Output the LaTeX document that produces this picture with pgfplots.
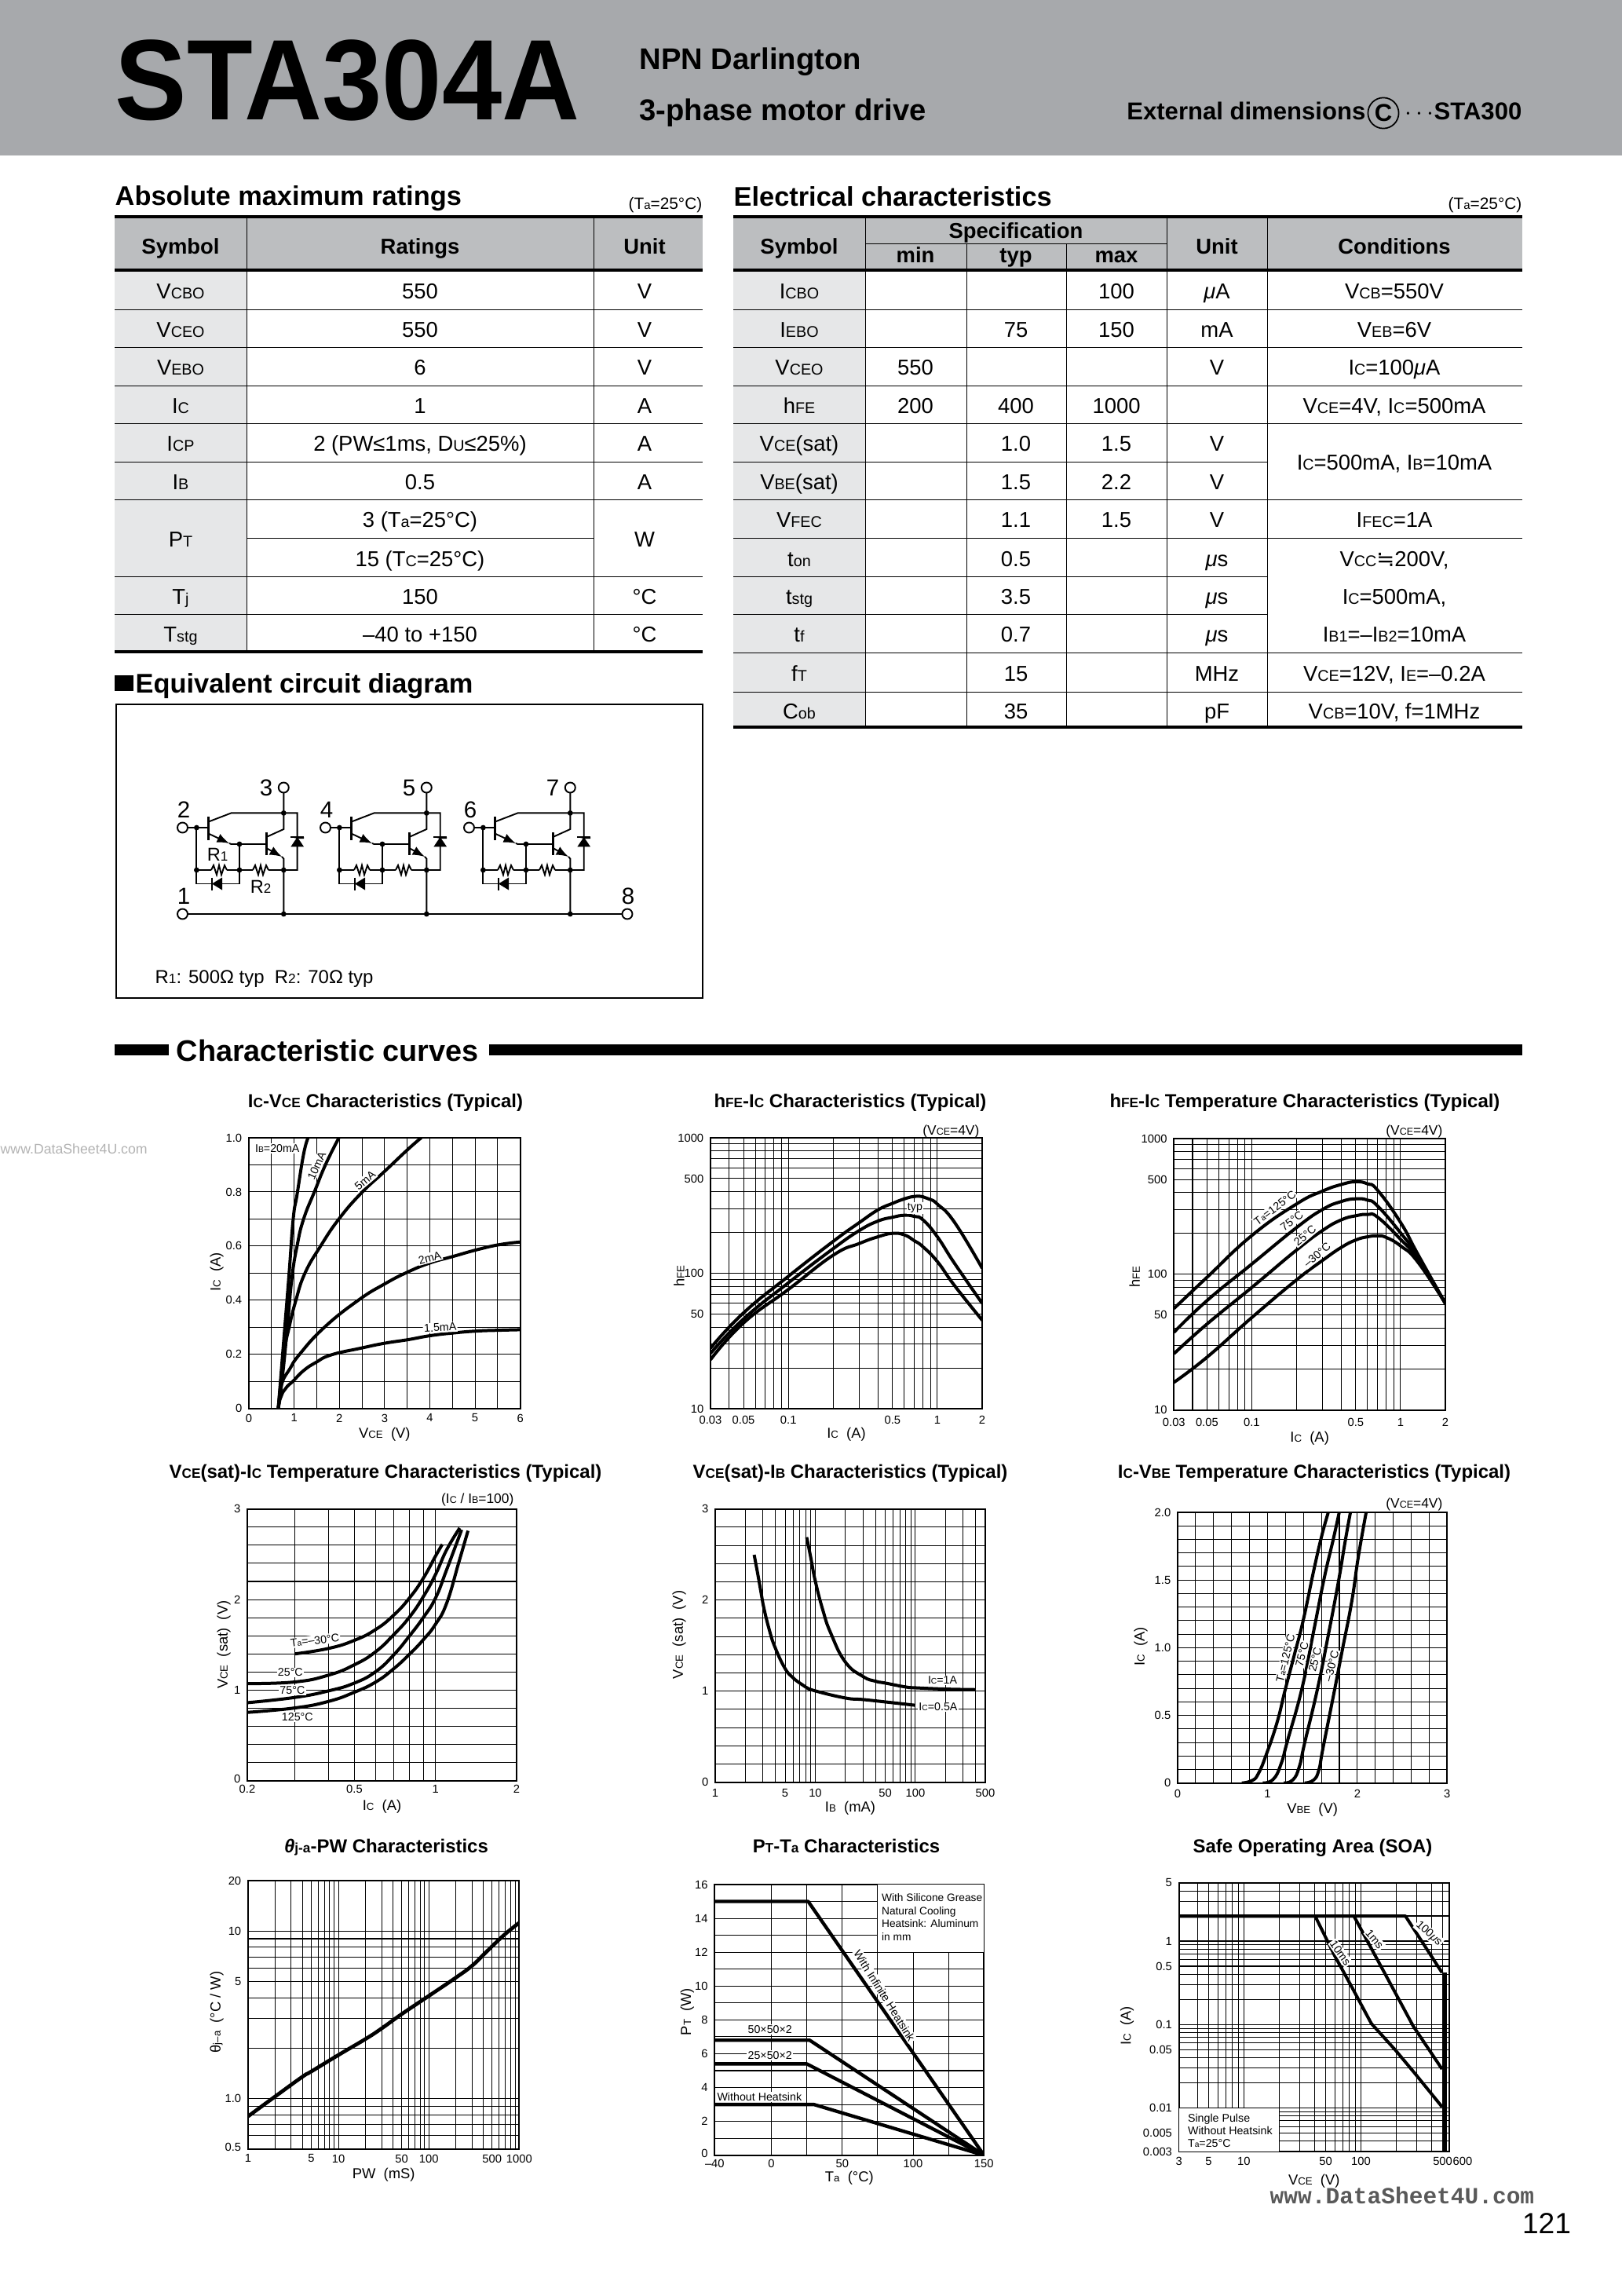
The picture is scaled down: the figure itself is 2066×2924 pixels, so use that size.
\documentclass[border=0pt]{standalone}
\usepackage{fontspec}
\usepackage{pgfplots}
\pgfplotsset{compat=1.18}
\setmainfont{Liberation Sans}
\newfontfamily\dv{DejaVu Sans}
\newfontfamily\wm{Liberation Mono}
\newcommand{\lo}[1]{\scalebox{.72}{#1}}
\newcommand{\fz}[1]{\fontsize{#1}{#1}\selectfont}
\definecolor{hdr}{HTML}{A7A9AC}
\definecolor{thead}{HTML}{BCBEC0}
\definecolor{tleft}{HTML}{E6E7E8}

\pgfplotsset{
  sheet/.style={
    scale only axis, anchor=south west,
    axis line style={line width=.55pt},
    tick style={draw=none}, tickwidth=0pt, subtickwidth=0pt,
    xmajorgrids, ymajorgrids, xminorgrids, yminorgrids,
    grid style={line width=.3pt,black},
    minor grid style={line width=.3pt,black},
    tick label style={font=\fz{4.25}},
    yticklabel style={xshift=1pt},
    label style={font=\fz{5.3}},
    cycle list={{black}},
  },
  % x label drop, y label offset (pixels), y label position along the axis
  labs/.style n args={3}{
    xlabel style={at={(axis description cs:.5,0)},anchor=center,yshift=-#1*.288pt},
    ylabel style={at={(axis description cs:0,#3)},anchor=center,yshift=#2*.288pt},
  },
  curve/.style={black,line width=1.15pt,no marks,smooth,tension=.8,line join=round},
  poly/.style={black,line width=1.15pt,no marks,line join=round},
  decx/.style={xmin=0.03,xmax=2,xtick={0.03,0.05,0.1,0.5,1,2},
    xticklabels={0.03,0.05,0.1,0.5,1,2},
    minor xtick={.04,.06,.07,.08,.09,.2,.3,.4,.6,.7,.8,.9}},
  decy/.style={ymin=10,ymax=1000,ytick={10,50,100,500,1000},
    yticklabels={10,50,100,500,1000},
    minor ytick={20,30,40,60,70,80,90,200,300,400,600,700,800,900}},
}
\tikzset{
  lbl/.style={font=\fz{4.1},fill=white,inner sep=.4pt},
  tx/.style={font=\fz{7.9},inner sep=0pt,anchor=mid,yshift=-.8pt},
  bt/.style={font=\fz{7.9}\bfseries,inner sep=0pt,anchor=mid,yshift=-.8pt},
  ttl/.style={font=\fz{6.9}\bfseries,inner sep=0pt,anchor=mid,yshift=-.6pt},
  note/.style={font=\fz{5},inner sep=0pt,anchor=mid east,yshift=-.5pt},
  thin/.style={line width=.28pt},
  fat/.style={line width=1.4pt},
  wire/.style={line width=.55pt},
}

\begin{document}
\begin{tikzpicture}
\begin{scope}[x=.288pt,y=-.288pt]
\path (0,0) rectangle (2066,2924);
% header band
\fill[hdr] (0,0) rectangle (2066,198);
\node[font=\fz{42}\bfseries,inner sep=0pt,anchor=mid west] at (146,143) {\scalebox{.94}[1]{STA304A}};
\node[font=\fz{11}\bfseries,inner sep=0pt,anchor=mid west] at (814,79) {NPN Darlington};
\node[font=\fz{11}\bfseries,inner sep=0pt,anchor=mid west] at (814,144) {3-phase motor drive};
\node[font=\fz{8.95}\bfseries,inner sep=0pt,anchor=mid east] at (1740,143) {External dimensions};
\node[font=\fz{8.95}\bfseries,draw,circle,line width=.5pt,inner sep=.8pt] at (1762,144) {C};
\node[font=\fz{8.95}\bfseries,inner sep=0pt,anchor=mid east] at (1939,143) {$\cdots$STA300};

% absolute maximum ratings
\node[font=\fz{9.9}\bfseries,inner sep=0pt,anchor=mid west] at (146,252) {Absolute maximum ratings};
\node[font=\fz{6},inner sep=0pt,anchor=mid east] at (895,257) {(T\lo{a}=25°C)};
\fill[thead] (146,276) rectangle (895,344);
\fill[tleft] (146,344) rectangle (314,830);
\draw[fat] (146,276) -- (895,276) (146,344) -- (895,344) (146,830) -- (895,830);
\draw[thin] (314,276) -- (314,830) (756,276) -- (756,830);
\foreach \y in {394,442,491,539,588,636,734,782} \draw[thin] (146,\y) -- (895,\y);
\draw[thin] (314,685) -- (756,685);
\node[bt] at (230,312) {Symbol};
\node[bt] at (535,312) {Ratings};
\node[bt] at (821,312) {Unit};
\foreach \y/\a/\b/\c in {369/{V\lo{CBO}}/{550}/V, 418/{V\lo{CEO}}/{550}/V, 466/{V\lo{EBO}}/{6}/V,
   515/{I\lo{C}}/{1}/A, 563/{I\lo{CP}}/{2 (PW≤1ms, D\lo{U}≤25\%)}/A, 612/{I\lo{B}}/{0.5}/A,
   758/{T\lo{j}}/{150}/{°C}, 806/{T\lo{stg}}/{–40 to +150}/{°C}}
  {\node[tx] at (230,\y) {\a}; \node[tx] at (535,\y) {\b}; \node[tx] at (821,\y) {\c};}
\node[tx] at (230,685) {P\lo{T}};
\node[tx] at (535,660) {3 (T\lo{a}=25°C)};
\node[tx] at (535,710) {15 (T\lo{C}=25°C)};
\node[tx] at (821,685) {W};

% electrical characteristics
\node[font=\fz{9.9}\bfseries,inner sep=0pt,anchor=mid west] at (934,253) {Electrical characteristics};
\node[font=\fz{6},inner sep=0pt,anchor=mid east] at (1939,257) {(T\lo{a}=25°C)};
\fill[thead] (934,276) rectangle (1939,344);
\fill[tleft] (934,344) rectangle (1102,926);
\draw[fat] (934,276) -- (1939,276) (934,344) -- (1939,344) (934,926) -- (1939,926);
\draw[thin] (1102,276) -- (1102,926) (1486,276) -- (1486,926) (1614,276) -- (1614,926);
\draw[thin] (1231,310) -- (1231,926) (1358,310) -- (1358,926);
\draw[thin] (1102,310) -- (1486,310);
\foreach \y in {394,442,491,539,636,685,831,881} \draw[thin] (934,\y) -- (1939,\y);
\foreach \y in {588,734,782} \draw[thin] (934,\y) -- (1614,\y);
\node[bt] at (1018,312) {Symbol};
\node[bt] at (1294,292) {Specification};
\node[bt] at (1166,323) {min};
\node[bt] at (1294,323) {typ};
\node[bt] at (1422,323) {max};
\node[bt] at (1550,312) {Unit};
\node[bt] at (1776,312) {Conditions};
\foreach \y/\a/\mn/\ty/\mx/\un in {369/{I\lo{CBO}}/{}/{}/{100}/{\textit{μ}A}, 418/{I\lo{EBO}}/{}/{75}/{150}/{mA},
   466/{V\lo{CEO}}/{550}/{}/{}/{V}, 515/{h\lo{FE}}/{200}/{400}/{1000}/{},
   563/{V\lo{CE}(sat)}/{}/{1.0}/{1.5}/{V}, 612/{V\lo{BE}(sat)}/{}/{1.5}/{2.2}/{V},
   660/{V\lo{FEC}}/{}/{1.1}/{1.5}/{V}, 710/{t\lo{on}}/{}/{0.5}/{}/{\textit{μ}s},
   758/{t\lo{stg}}/{}/{3.5}/{}/{\textit{μ}s}, 806/{t\lo{f}}/{}/{0.7}/{}/{\textit{μ}s},
   856/{f\lo{T}}/{}/{15}/{}/{MHz}, 904/{C\lo{ob}}/{}/{35}/{}/{pF}}
  {\node[tx] at (1018,\y) {\a}; \node[tx] at (1166,\y) {\mn}; \node[tx] at (1294,\y) {\ty};
   \node[tx] at (1422,\y) {\mx}; \node[tx] at (1550,\y) {\un};}
\node[tx] at (1776,369) {V\lo{CB}=550V};
\node[tx] at (1776,418) {V\lo{EB}=6V};
\node[tx] at (1776,466) {I\lo{C}=100\textit{μ}A};
\node[tx] at (1776,515) {V\lo{CE}=4V, I\lo{C}=500mA};
\node[tx] at (1776,587) {I\lo{C}=500mA, I\lo{B}=10mA};
\node[tx] at (1776,660) {I\lo{FEC}=1A};
\node[tx] at (1776,710) {V\lo{CC}{\dv ≒}200V,};
\node[tx] at (1776,758) {I\lo{C}=500mA,};
\node[tx] at (1776,806) {I\lo{B1}=–I\lo{B2}=10mA};
\node[tx] at (1776,856) {V\lo{CE}=12V, I\lo{E}=–0.2A};
\node[tx] at (1776,904) {V\lo{CB}=10V, f=1MHz};

% equivalent circuit
\fill (146,860) rectangle (170,880);
\node[font=\fz{9.9}\bfseries,inner sep=0pt,anchor=mid west] at (172,873) {Equivalent circuit diagram};
\draw[line width=.35pt] (148,897) rectangle (895,1271);
\foreach \dx/\n/\m in {0/2/3, 182/4/5, 365/6/7} {
  \begin{scope}[shift={(\dx,0)},wire]
    \draw (239,1054) -- (265.6,1054);
    \draw (250.4,1054) -- (250.4,1125.5) -- (270,1125.5);
    \draw (283,1125.5) -- (305,1125.5) -- (305,1075);
    \draw[line width=.9pt] (265.6,1040) -- (265.6,1070);
    \draw (265.6,1046.5) -- (294.5,1035.4) -- (378.7,1035.4) -- (378.7,1108) -- (361.3,1108);
    \draw[-latex] (265.6,1061.6) -- (292,1074);
    \draw (292,1074) -- (294.5,1075) -- (339.2,1075);
    \draw[line width=.9pt] (339.2,1060) -- (339.2,1088.5);
    \draw (339.2,1066) -- (361.3,1056) -- (361.3,1010);
    \draw[-latex] (339.2,1080) -- (359,1091);
    \draw (359,1091) -- (361.3,1093.5) -- (361.3,1164);
    \draw (250.4,1108) -- (269,1108) (289,1108) -- (322,1108) (342,1108) -- (361.3,1108);
    \foreach \c in {279,332}
      \draw (\c-10,1108) -- (\c-7,1102) -- (\c-3,1114) -- (\c,1102) -- (\c+3,1114) -- (\c+7,1102) -- (\c+10,1108);
    \fill (370.3,1066) -- (387.1,1066) -- (387.1,1068) -- (378.7,1068) -- cycle;
    \draw[line width=.8pt] (370,1066) -- (387.4,1066);
    \fill (378.7,1066) -- (370.3,1078.4) -- (387.1,1078.4) -- cycle;
    \draw[line width=.8pt] (270,1117.5) -- (270,1133.5);
    \fill (270,1125.5) -- (283,1117.5) -- (283,1133.5) -- cycle;
    \foreach \p in {(250.4,1054),(250.4,1108),(305,1075),(305,1108),(361.3,1035.4),(361.3,1108),(361.3,1164)}
      \fill \p circle (3.4);
    \draw[fill=white] (232.5,1054) circle (6.5);
    \draw[fill=white] (361.3,1003) circle (6.5);
    \node[font=\fz{8.5},inner sep=0pt] at (234,1031) {\n};
    \node[font=\fz{8.5},inner sep=0pt] at (339,1003) {\m};
  \end{scope}
}
\draw[wire] (239,1164) -- (793,1164);
\draw[wire,fill=white] (232.5,1164) circle (6.5);
\draw[wire,fill=white] (799,1164) circle (6.5);
\node[font=\fz{8.5},inner sep=0pt] at (234,1141) {1};
\node[font=\fz{8.5},inner sep=0pt] at (800,1141) {8};
\node[font=\fz{6.8},inner sep=0pt] at (277,1088) {R\lo{1}};
\node[font=\fz{6.8},inner sep=0pt] at (332,1129) {R\lo{2}};
\node[font=\fz{6.9},inner sep=0pt,anchor=mid west] at (197,1243) {R\lo{1}: 500Ω typ\ \ R\lo{2}: 70Ω typ};

% section bar
\fill (146,1330) rectangle (215,1344);
\fill (623,1330) rectangle (1939,1344);
\node[font=\fz{10.9}\bfseries,inner sep=0pt,anchor=mid west] at (224,1342) {Characteristic curves};

% chart titles and notes
\node[ttl] at (491,1399) {I\lo{C}-V\lo{CE} Characteristics (Typical)};
\node[ttl] at (1083,1399) {h\lo{FE}-I\lo{C} Characteristics (Typical)};
\node[ttl] at (1662,1399) {h\lo{FE}-I\lo{C} Temperature Characteristics (Typical)};
\node[ttl] at (491,1871) {V\lo{CE}(sat)-I\lo{C} Temperature Characteristics (Typical)};
\node[ttl] at (1083,1871) {V\lo{CE}(sat)-I\lo{B} Characteristics (Typical)};
\node[ttl] at (1674,1871) {I\lo{C}-V\lo{BE} Temperature Characteristics (Typical)};
\node[ttl] at (492,2348) {\textit{θ}\lo{j-a}-PW Characteristics};
\node[ttl] at (1078,2348) {P\lo{T}-T\lo{a} Characteristics};
\node[ttl] at (1672,2348) {Safe Operating Area (SOA)};
\node[note] at (1248,1435) {(V\lo{CE}=4V)};
\node[note] at (1838,1435) {(V\lo{CE}=4V)};
\node[note] at (655,1904) {(I\lo{C} / I\lo{B}=100)};
\node[note] at (1838,1910) {(V\lo{CE}=4V)};

\node[font=\fz{5.1},text=black!30,inner sep=0pt,anchor=mid west] at (0,1460) {www.DataSheet4U.com};
\node[font=\fz{10.7},inner sep=0pt] at (1970,2831) {121};

% axis corners
\coordinate (c1) at (317,1793.7);
\coordinate (c2) at (905,1794);
\coordinate (c3) at (1495.3,1795.7);
\coordinate (c4) at (315,2267.7);
\coordinate (c5) at (911,2269.7);
\coordinate (c6) at (1500,2270.7);
\coordinate (c7) at (316,2736.7);
\coordinate (c8) at (910.3,2744.7);
\coordinate (c9) at (1501.7,2740);
\end{scope}

% IC-VCE
\begin{axis}[sheet,at={(c1)},width=99.56pt,height=99.27pt,labs={33}{41}{.504},
  xticklabel style={yshift=1.5pt},
  xmin=0,xmax=6,ymin=0,ymax=1,
  xtick={0,1,2,3,4,5,6},xticklabels={0,1,2,3,4,5,6},minor xtick={.5,1.5,2.5,3.5,4.5,5.5},
  ytick={0,.2,.4,.6,.8,1},yticklabels={0,0.2,0.4,0.6,0.8,1.0},minor ytick={.1,.3,.5,.7,.9},
  xlabel={V\lo{CE}\ \ (V)},ylabel={I\lo{C}\ \ (A)}]
\addplot[curve] coordinates {(0.65,0)(0.775,0.26)(0.89,0.50)(0.98,0.70)(1.065,0.79)(1.21,0.94)(1.31,1.0)};
\addplot[curve] coordinates {(0.65,0)(0.75,0.13)(0.85,0.30)(0.95,0.48)(1.065,0.60)(1.21,0.70)(1.46,0.805)(1.7,0.903)(1.99,1.0)};
\addplot[curve] coordinates {(0.65,0)(0.775,0.2)(0.89,0.30)(1.04,0.40)(1.24,0.50)(1.585,0.60)(1.99,0.70)(2.48,0.795)(3.0,0.876)(3.52,0.958)(3.81,1.0)};
\addplot[curve] coordinates {(0.65,0)(0.69,0.05)(0.745,0.1)(0.9,0.145)(1.12,0.2)(1.67,0.3)(2.42,0.4)(3.0,0.46)(3.51,0.504)(4.01,0.538)(4.52,0.562)(5.03,0.586)(5.53,0.605)(6,0.615)};
\addplot[curve] coordinates {(0.65,0)(0.69,0.035)(0.75,0.06)(0.85,0.082)(0.97,0.1)(1.21,0.14)(1.48,0.17)(1.82,0.198)(2.48,0.223)(3,0.241)(3.51,0.254)(4.01,0.269)(4.52,0.279)(5.03,0.286)(5.53,0.289)(6,0.291)};
\node[lbl] at (axis cs:0.63,0.961) {I\lo{B}=20mA};
\node[lbl,rotate=65] at (axis cs:1.5,0.896) {10mA};
\node[lbl,rotate=40] at (axis cs:2.57,0.842) {5mA};
\node[lbl,rotate=15] at (axis cs:4,0.557) {2mA};
\node[lbl,rotate=3] at (axis cs:4.23,0.299) {1.5mA};
\end{axis}

% hFE-IC
\begin{axis}[sheet,at={(c2)},width=99.65pt,height=99.36pt,labs={33}{40}{.49},
  xticklabel style={yshift=.8pt},
  xmode=log,ymode=log,decx,decy,
  xlabel={I\lo{C}\ \ (A)},ylabel={h\lo{FE}}]
\addplot[curve] coordinates {(0.03,28)(0.05,51)(0.1,95)(0.2,172)(0.3,237)(0.4,294)(0.5,328)(0.6,354)(0.7,369)(0.8,367)(0.9,350)(1,324)(1.3,239)(2,109)};
\addplot[curve] coordinates {(0.03,25.6)(0.05,46)(0.1,85)(0.2,152)(0.3,207)(0.4,243)(0.5,259)(0.6,268)(0.7,263)(0.8,248)(1,186)(1.3,119)(2,60)};
\addplot[curve] coordinates {(0.03,23)(0.05,43)(0.1,76)(0.2,136)(0.3,166)(0.4,186)(0.5,197)(0.6,192)(0.7,174)(0.8,157)(1,122)(1.3,81.5)(2,45)};
\node[lbl] at (axis cs:0.708,303) {typ};
\end{axis}

% hFE-IC temperature
\begin{axis}[sheet,at={(c3)},width=99.56pt,height=99.56pt,labs={36}{50}{.49},
  xticklabel style={yshift=.5pt},
  xmode=log,ymode=log,decx,decy,
  xlabel={I\lo{C}\ \ (A)},ylabel={h\lo{FE}}]
\addplot[curve] coordinates {(0.03,56)(0.05,95)(0.1,193)(0.2,330)(0.3,411)(0.4,459)(0.5,481)(0.6,464)(0.7,417)(1,241)(1.3,142)(2,61)};
\addplot[curve] coordinates {(0.03,37.4)(0.05,64)(0.1,119)(0.2,221)(0.3,301)(0.4,344)(0.5,360)(0.6,352)(0.7,319)(1,202)(1.3,136)(2,61)};
\addplot[curve] coordinates {(0.03,26)(0.05,43)(0.1,80)(0.2,151)(0.3,211)(0.4,252)(0.5,270)(0.6,276)(0.7,264)(1,181)(1.3,130)(2,61)};
\addplot[curve] coordinates {(0.03,16)(0.05,24.5)(0.1,48)(0.2,91)(0.3,127)(0.4,158)(0.5,179)(0.6,189)(0.7,192)(0.8,187)(1,162)(1.3,124)(2,61)};
\node[lbl,rotate=37] at (axis cs:0.143,308) {T\lo{a}=125°C};
\node[lbl,rotate=37] at (axis cs:0.186,247) {75°C};
\node[lbl,rotate=40] at (axis cs:0.228,193) {25°C};
\node[lbl,rotate=40] at (axis cs:0.275,139) {–30°C};
\end{axis}

% VCE(sat)-IC temperature
\begin{axis}[sheet,at={(c4)},width=98.78pt,height=99.65pt,labs={33}{30}{.5},
  xticklabel style={yshift=1.9pt},
  xmode=log,xmin=0.2,xmax=2,ymin=0,ymax=3,
  xtick={0.2,0.5,1,2},xticklabels={0.2,0.5,1,2},minor xtick={.3,.4,.6,.7,.8,.9},
  ytick={0,1,2,3},yticklabels={\raisebox{1.4pt}{0},1,2,3},minor ytick={.2,.4,.6,.8,1.2,1.4,1.6,1.8,2.2,2.4,2.6,2.8},
  xlabel={I\lo{C}\ \ (A)},ylabel={V\lo{CE}\ \ (sat)\ \ (V)}]
\addplot[curve] coordinates {(0.3,1.40)(0.4,1.46)(0.5,1.55)(0.6,1.67)(0.7,1.829)(0.8,2.017)(0.9,2.234)(1.0,2.48)(1.06,2.61)};
\addplot[curve] coordinates {(0.2,1.072)(0.3,1.09)(0.4,1.165)(0.5,1.28)(0.6,1.425)(0.7,1.613)(0.8,1.806)(0.9,2.03)(1.0,2.277)(1.1,2.55)(1.23,2.79)};
\addplot[curve] coordinates {(0.2,0.861)(0.3,0.919)(0.4,0.991)(0.5,1.078)(0.6,1.205)(0.7,1.39)(0.8,1.598)(0.9,1.80)(1.0,2.017)(1.1,2.33)(1.25,2.77)};
\addplot[curve] coordinates {(0.2,0.754)(0.3,0.803)(0.4,0.875)(0.5,0.977)(0.6,1.09)(0.7,1.237)(0.8,1.396)(0.9,1.555)(1.0,1.728)(1.1,1.96)(1.22,2.41)(1.32,2.76)};
\node[lbl,rotate=7] at (axis cs:0.356,1.549) {T\lo{a}=–30°C};
\node[lbl] at (axis cs:0.289,1.194) {25°C};
\node[lbl] at (axis cs:0.294,0.997) {75°C};
\node[lbl] at (axis cs:0.307,0.702) {125°C};
\end{axis}

% VCE(sat)-IB
\begin{axis}[sheet,at={(c5)},width=99.07pt,height=100.22pt,labs={33}{46}{.54},
  xticklabel style={yshift=1pt},
  xmode=log,xmin=1,xmax=500,ymin=0,ymax=3,
  xtick={1,5,10,50,100,500},xticklabels={1,5,10,50,100,500},
  minor xtick={2,3,4,6,7,8,9,20,30,40,60,70,80,90,200,300,400},
  ytick={0,1,2,3},yticklabels={0,1,2,3},minor ytick={.2,.4,.6,.8,1.2,1.4,1.6,1.8,2.2,2.4,2.6,2.8},
  xlabel={I\lo{B}\ \ (mA)},ylabel={V\lo{CE}\ \ (sat)\ \ (V)}]
\addplot[curve] coordinates {(2.45,2.497)(2.74,2.21)(3,1.96)(3.49,1.664)(4,1.47)(5,1.247)(6,1.147)(7,1.089)(8,1.046)(10,1.003)(20,0.925)(30,0.908)(50,0.882)(100,0.845)};
\addplot[curve] coordinates {(8.2,2.69)(9,2.47)(10,2.21)(11.9,1.89)(14.3,1.635)(20,1.319)(30,1.161)(40,1.109)(50,1.089)(80,1.046)(100,1.037)(200,1.023)(400,1.017)};
\node[lbl] at (axis cs:187,1.118) {I\lo{C}=1A};
\node[lbl] at (axis cs:169,0.825) {I\lo{C}=0.5A};
\end{axis}

% IC-VBE temperature
\begin{axis}[sheet,at={(c6)},width=98.87pt,height=99.27pt,labs={34}{47}{.505},
  xticklabel style={yshift=1pt},
  xmin=0,xmax=3,ymin=0,ymax=2,
  xtick={0,1,2,3},xticklabels={0,1,2,3},
  minor xtick={.2,.4,.6,.8,1.2,1.4,1.6,1.8,2.2,2.4,2.6,2.8},
  ytick={0,.5,1,1.5,2},yticklabels={0,0.5,1.0,1.5,2.0},
  minor ytick={.1,.2,.3,.4,.6,.7,.8,.9,1.1,1.2,1.3,1.4,1.6,1.7,1.8,1.9},
  xlabel={V\lo{BE}\ \ (V)},ylabel={I\lo{C}\ \ (A)}]
\addplot[curve] coordinates {(0.714,0)(0.83,0.019)(0.90,0.072)(0.99,0.217)(1.107,0.449)(1.194,0.681)(1.296,0.94)(1.398,1.203)(1.515,1.571)(1.602,1.822)(1.675,1.996)};
\addplot[curve] coordinates {(0.947,0)(1.063,0.027)(1.15,0.139)(1.223,0.313)(1.384,0.70)(1.515,1.126)(1.631,1.513)(1.733,1.803)(1.797,1.996)};
\addplot[curve] coordinates {(1.18,0)(1.282,0.023)(1.354,0.12)(1.413,0.294)(1.558,0.70)(1.675,1.087)(1.791,1.493)(1.864,1.783)(1.922,1.996)};
\addplot[curve] coordinates {(1.413,0)(1.515,0.023)(1.573,0.10)(1.617,0.255)(1.733,0.642)(1.835,0.99)(1.937,1.338)(2.01,1.667)(2.097,1.996)};
\node[lbl,rotate=76] at (axis cs:1.2,0.923) {T\lo{a}=125°C};
\node[lbl,rotate=76] at (axis cs:1.384,0.952) {75°C};
\node[lbl,rotate=76] at (axis cs:1.529,0.913) {25°C};
\node[lbl,rotate=76] at (axis cs:1.713,0.865) {–30°C};
\end{axis}

% theta j-a - PW
\begin{axis}[sheet,at={(c7)},width=99.45pt,height=98.41pt,labs={33}{40}{.51},
  xticklabel style={yshift=1.5pt},
  xmode=log,ymode=log,xmin=1,xmax=1000,ymin=0.5,ymax=20,
  xtick={1,5,10,50,100,500,1000},xticklabels={1,5,10,50,100,500,1000},
  minor xtick={2,3,4,6,7,8,9,20,30,40,60,70,80,90,200,300,400,600,700,800,900},
  ytick={0.5,1,5,10,20},yticklabels={\raisebox{1.4pt}{0.5},1.0,5,10,20},
  minor ytick={.6,.7,.8,.9,2,3,4,6,7,8,9},
  xlabel={PW\ \ (mS)},ylabel={θ\lo{j--a}\ \ (°C / W)}]
\addplot[curve,line width=1.35pt] coordinates {(1,0.783)(2,1.03)(4,1.35)(5,1.45)(10,1.82)(20,2.27)(30,2.62)(50,3.19)(100,4.1)(200,5.28)(300,6.2)(400,7.2)(500,8.1)(700,9.6)(1000,11.2)};
\end{axis}

% PT-Ta
\begin{axis}[sheet,at={(c8)},width=98.78pt,height=99.27pt,labs={29}{35}{.53},clip mode=individual,
  xticklabel style={yshift=2.1pt},
  xmin=-40,xmax=150,ymin=0,ymax=16,
  xtick={-40,0,50,100,150},xticklabels={--40,0,50,100,150},minor xtick={25,75,125},
  ytick={0,2,4,6,8,10,12,14,16},yticklabels={\raisebox{1.4pt}{0},2,4,6,8,10,12,14,16},
  minor ytick={1,3,5,7,9,11,13,15},
  xlabel={T\lo{a}\ \ (°C)},ylabel={P\lo{T}\ \ (W)}]
\addplot[poly,line width=1.25pt] coordinates {(-40,15)(26,15)(150,0)};
\addplot[poly,line width=1.25pt] coordinates {(-40,6.8)(27,6.8)(150,0)};
\addplot[poly,line width=1.25pt] coordinates {(-40,5.4)(25,5.4)(150,0)};
\addplot[poly,line width=1.25pt] coordinates {(-40,3)(30,3)(150,0)};
\fill[white] (axis cs:75,12) rectangle (axis cs:149.8,15.98);
\draw[line width=.3pt] (axis cs:75,16) -- (axis cs:75,12) -- (axis cs:150,12);
\node[font=\fz{3.95},inner sep=0pt,anchor=north west,align=left] at (axis cs:77.5,15.5)
  {With Silicone Grease\\[.85pt]Natural Cooling\\[.85pt]Heatsink: Aluminum\\[.85pt]in mm};
\node[lbl,rotate=-58] at (axis cs:79.8,9.43) {With Infinite Heatsink};
\node[lbl] at (axis cs:-1,7.43) {50×50×2};
\node[lbl] at (axis cs:-1,5.9) {25×50×2};
\node[lbl] at (axis cs:-8.4,3.44) {Without Heatsink};
\end{axis}

% SOA
\begin{axis}[sheet,at={(c9)},width=99.07pt,height=98.58pt,labs={38}{66}{.467},clip mode=individual,
  xticklabel style={yshift=1.5pt},
  xmode=log,ymode=log,xmin=2.79,xmax=567,ymin=0.003,ymax=5,
  xtick={2.79,5,10,50,100,500},xticklabels={3,5,10,50,100,500},
  minor xtick={4,6,7,8,9,20,30,40,60,70,80,90,200,300,400},
  ytick={.003,.005,.01,.05,.1,.5,1,5},yticklabels={0.003,0.005,0.01,0.05,0.1,0.5,1,5},
  minor ytick={.004,.006,.007,.008,.009,.02,.03,.04,.06,.07,.08,.09,.2,.3,.4,.6,.7,.8,.9,2,3,4},
  xlabel={V\lo{CE}\ \ (V)},ylabel={I\lo{C}\ \ (A)}]
\addplot[poly] coordinates {(2.79,2)(40.6,2)(59.7,0.668)(83.6,0.282)(122.7,0.103)(195.6,0.05)(287.7,0.0262)(494,0.0103)};
\addplot[poly] coordinates {(2.79,2)(87.1,2)(129,0.718)(195.6,0.244)(280,0.0957)(494,0.0292)};
\addplot[poly] coordinates {(2.79,2)(240,2)(494,0.418)};
\addplot[poly,line width=1.7pt] coordinates {(520,0.42)(520,0.003)};
\fill[white] (axis cs:2.82,0.00303) rectangle (axis cs:20,0.01);
\draw[line width=.3pt] (axis cs:2.79,0.01) -- (axis cs:20,0.01) -- (axis cs:20,0.003);
\node[font=\fz{4.1},inner sep=0pt,anchor=north west,align=left] at (axis cs:3.29,0.0086)
  {Single Pulse\\[.55pt]Without Heatsink\\[.55pt]T\lo{a}=25°C};
\node[lbl,rotate=-55] at (axis cs:66.9,0.718) {10ms};
\node[lbl,rotate=-50] at (axis cs:131,1.05) {1ms};
\node[lbl,rotate=-42] at (axis cs:381,1.23) {100\textit{μ}s};
\node[font=\fz{4.25},anchor=north,inner sep=1.4pt,yshift=-.4pt] at (rel axis cs:1.05,0) {600};
\end{axis}

\begin{scope}[x=.288pt,y=-.288pt]
\node[font=\fz{8.5}\wm\bfseries,text=black!65,inner sep=0pt,anchor=mid west] at (1617,2797) {www.DataSheet4U.com};
\end{scope}
\end{tikzpicture}
\end{document}
